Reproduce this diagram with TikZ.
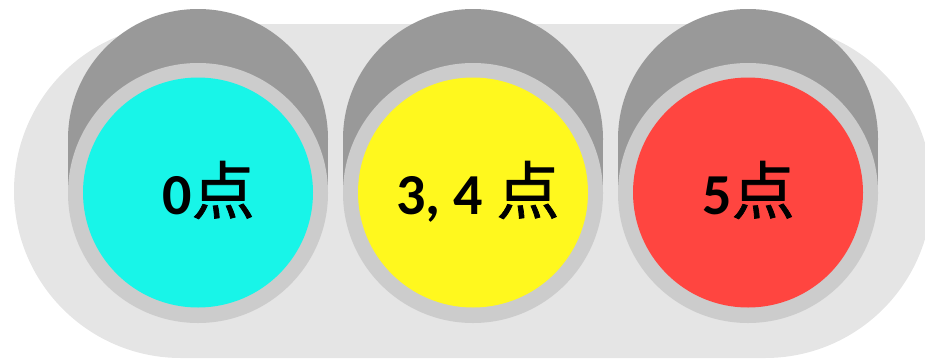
\documentclass[tikz,border=0pt]{standalone}
\usepackage{fontspec}
\newfontfamily\digitfont{Carlito}
\newfontfamily\cjk{Noto Sans CJK JP}[FakeBold=1.2]
\definecolor{bgc}{HTML}{E5E5E5}
\definecolor{hoodc}{HTML}{999999}
\definecolor{rimc}{HTML}{CCCCCC}
\definecolor{cyanc}{HTML}{18F5E8}
\definecolor{yellowc}{HTML}{FFF81E}
\definecolor{redc}{HTML}{FF4540}
\tikzset{
  rimdisc/.style={circle, fill=rimc, inner sep=0, minimum size=260pt},
  hooddisc/.style={circle, fill=hoodc, inner sep=0, minimum size=260pt},
  lampdisc/.style={circle, fill=#1, inner sep=0, minimum size=230pt},
  label/.style={anchor=base, inner sep=0, text=black}
}
\newcommand{\dg}[1]{{\digitfont\bfseries\fontsize{58}{60}\selectfont #1}}
\newcommand{\dian}{{\cjk\mdseries\fontsize{63}{66}\selectfont 点}}
\begin{document}
\begin{tikzpicture}[x=1pt,y=-1pt]
\useasboundingbox (0,0) rectangle (925,359);
\clip (0,0) rectangle (925,359);
\fill[bgc, rounded corners=167pt] (14,24) rectangle (932,358);
\foreach \cx/\nm in {198/a, 473/b, 748/c} {
  \node[hooddisc] (hood\nm) at (\cx,139) {};
  \fill[hoodc] (\cx-130,139) rectangle (\cx+130,193);
  \node[rimdisc] (rim\nm) at (\cx,193) {};
}
\node[lampdisc=cyanc] (lampa) at (198,192.5) {};
\node[lampdisc=yellowc] (lampb) at (473,192.5) {};
\node[lampdisc=redc] (lampc) at (748,192.5) {};
\node[label] (texta) at (208.5,214) {\dg{0}\dian};
\node[label] (textb) at (478,214) {\dg{3, 4 }\dian};
\node[label] (textc) at (748.5,214) {\dg{5}\dian};
\end{tikzpicture}
\end{document}
